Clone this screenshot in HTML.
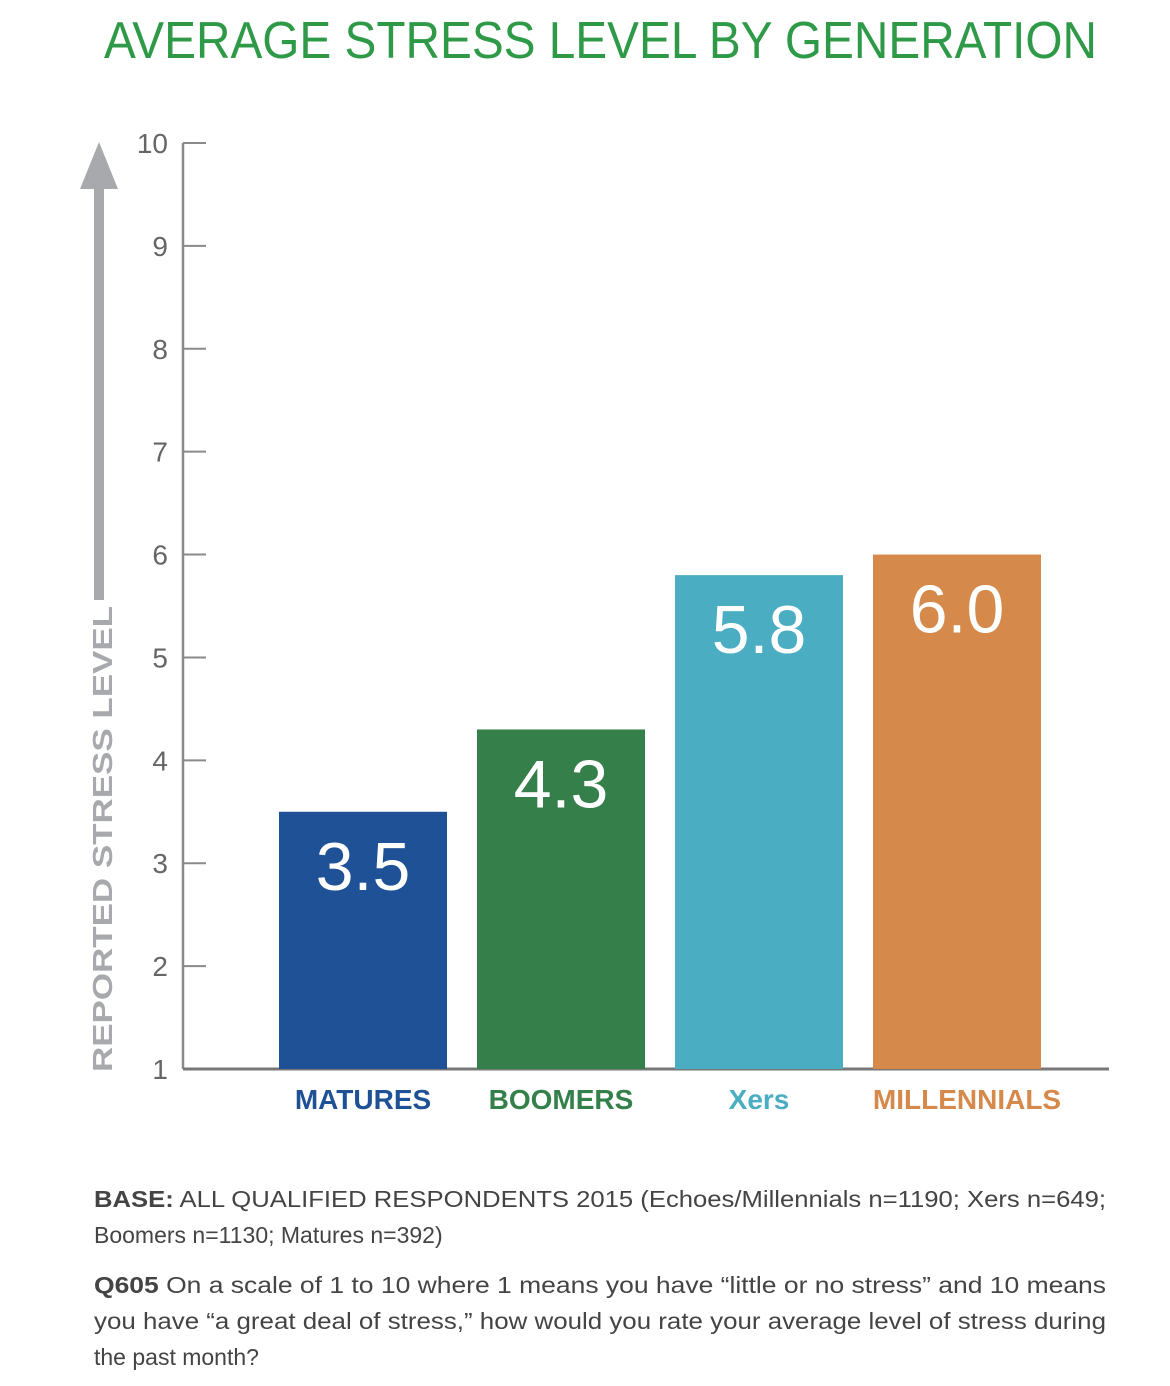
<!DOCTYPE html>
<html><head><meta charset="utf-8"><style>
html,body{margin:0;padding:0;background:#fff;}
svg{display:block;font-family:"Liberation Sans",sans-serif;}
</style></head><body>
<svg id="chart" width="1170" height="1386" viewBox="0 0 1170 1386">
<text x="104" y="58" font-size="52" fill="#2e9a48" textLength="993" lengthAdjust="spacingAndGlyphs">AVERAGE STRESS LEVEL BY GENERATION</text>
<g id="arrow">
<rect x="94" y="185" width="10" height="415" fill="#a7a9ac"/>
<polygon points="99,142 80,189 118,189" fill="#a7a9ac"/>
</g>
<text transform="translate(112,1072) rotate(-90)" font-size="28" font-weight="bold" fill="#a7a9ac" textLength="466" lengthAdjust="spacingAndGlyphs">REPORTED STRESS LEVEL</text>
<g id="axes"></g>
<g id="bars"></g>
<text x="94" y="1207" font-size="23" fill="#444" textLength="1012" lengthAdjust="spacingAndGlyphs"><tspan font-weight="bold">BASE:</tspan> ALL QUALIFIED RESPONDENTS 2015 (Echoes/Millennials n=1190; Xers n=649;</text>
<text x="94" y="1243" font-size="23" fill="#444">Boomers n=1130; Matures n=392)</text>
<text x="94" y="1293" font-size="23" fill="#444" textLength="1012" lengthAdjust="spacingAndGlyphs"><tspan font-weight="bold">Q605</tspan> On a scale of 1 to 10 where 1 means you have “little or no stress” and 10 means</text>
<text x="94" y="1329" font-size="23" fill="#444" textLength="1012" lengthAdjust="spacingAndGlyphs">you have “a great deal of stress,” how would you rate your average level of stress during</text>
<text x="94" y="1365" font-size="23" fill="#444">the past month?</text>
</svg>
<script>
const categories = ["MATURES","BOOMERS","Xers","MILLENNIALS"];
const values = [3.5, 4.3, 5.8, 6.0];
const valueLabels = ["3.5","4.3","5.8","6.0"];
const yTicks = [1,2,3,4,5,6,7,8,9,10];
const barColors = ["#1f5196","#35804a","#4badc2","#d5894a"];
const NS="http://www.w3.org/2000/svg";
const yMin=1,yMax=10,yBottom=1069,yTop=143;
function y(v){return yBottom-(v-yMin)/(yMax-yMin)*(yBottom-yTop);}
const x0=183,bandStart=264,bandW=198,barW=168;
function x(i){return bandStart+i*bandW+15;}
function mk(tag,attrs,parent){const e=document.createElementNS(NS,tag);for(const k in attrs)e.setAttribute(k,attrs[k]);parent.appendChild(e);return e;}
const axes=document.getElementById('axes');
const bars=document.getElementById('bars');
let ln=mk('line',{x1:x0,y1:yTop,x2:x0,y2:yBottom,stroke:'#8a8a8a','stroke-width':2.5},axes);


yTicks.forEach(t=>{
 const tk=mk('line',{x1:x0,y1:y(t),x2:206,y2:y(t),stroke:'#8a8a8a','stroke-width':2},axes);
 
 
 const tl=mk('text',{x:168,y:y(t)+10,'font-size':28,fill:'#666','text-anchor':'end'},axes);
 tl.textContent=t;
 
 
});
values.forEach((v,i)=>{
 const r=mk('rect',{x:x(i),y:y(v),width:barW,height:yBottom-y(v),fill:barColors[i]},bars);
 
 
 const vl=mk('text',{x:x(i)+barW/2,y:y(v)+78,'font-size':68,fill:'#fff','text-anchor':'middle'},bars);
 vl.textContent=valueLabels[i];
 
 
 const cl=mk('text',{x:x(i)+barW/2+(i==3?10:0),y:1109,'font-size':28,'font-weight':'bold',fill:barColors[i],'text-anchor':'middle'},bars);
 cl.textContent=categories[i];
 
 
});
let bl=mk('line',{x1:x0,y1:yBottom,x2:1109,y2:yBottom,stroke:'#777','stroke-width':3},axes);


</script>
</body></html>
